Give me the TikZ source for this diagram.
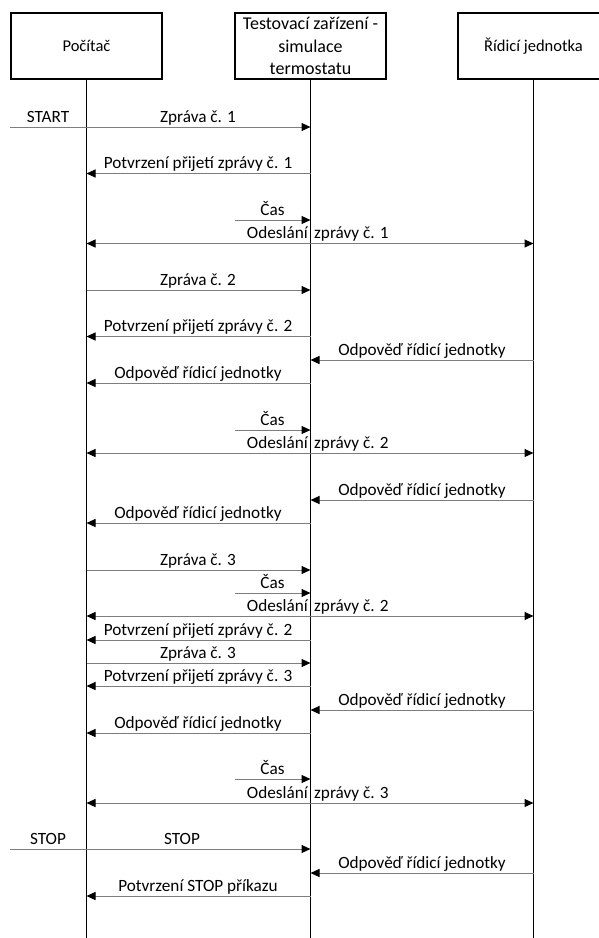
\documentclass[tikz,border=0pt]{standalone}
\usepackage{fontspec}
\setmainfont{Carlito}
\usetikzlibrary{arrows.meta}
\definecolor{msgray}{RGB}{125,125,125}

\tikzset{
  box/.style={draw, line width=1.6pt, minimum width=151pt, minimum height=66pt,
    inner sep=0pt, align=center, font=\fontsize{16.5}{22}\selectfont},
  life/.style={line width=1.6pt},
  msg/.style={draw=msgray, line width=1pt, -{Triangle[length=9pt,width=8pt,color=black]}},
  dmsg/.style={draw=msgray, line width=1pt,
    {Triangle[length=9pt,width=8pt,color=black]}-{Triangle[length=9pt,width=8pt,color=black]}},
  lbl/.style={font=\fontsize{17.2}{20}\selectfont, anchor=base, inner sep=0pt},
}

\begin{document}
\begin{tikzpicture}[x=1pt,y=-1pt]
  \useasboundingbox (0,0) rectangle (598,938);
  % participants
  \node[box] (pc) at (86.5,46) {Počítač};
  \node[box, font=\fontsize{18}{22.5}\selectfont] (tz) at (310.5,46) {Testovací zařízení -\\simulace\\termostatu};
  \node[box] (rj) at (533.5,46) {Řídicí jednotka};
  \draw[life] (pc.south) -- (pc.south |- 0,938);
  \draw[life] (tz.south) -- (tz.south |- 0,938);
  \draw[life] (rj.south) -- (rj.south |- 0,938);

  % start
  \coordinate (startin) at (10,127);
  \draw[msg] (startin) -- (tz.south |- startin);
  \node[lbl] (l0a) at (48,122) {START};
  \node[lbl] (l0b) at (198,122) {Zpráva č. 1};
  \draw[msg] (tz.south |- 0,173.5) -- (pc.south |- 0,173.5);
  \node[lbl] (l1) at (198,168.5) {Potvrzení přijetí zprávy č. 1};
  \coordinate (cas1) at (235,220);
  \draw[msg] (cas1) -- (tz.south |- cas1);
  \node[lbl] (l2) at (272.5,215) {Čas};
  \draw[dmsg] (pc.south |- 0,243.5) -- (rj.south |- 0,243.5);
  \node[lbl, anchor=base east] (l3a) at (308,238.5) {Odeslání};
  \node[lbl, anchor=base west] (l3b) at (314,238.5) {zprávy č. 1};

  % second message
  \draw[msg] (pc.south |- 0,290) -- (tz.south |- 0,290);
  \node[lbl] (l4) at (198,285) {Zpráva č. 2};
  \draw[msg] (tz.south |- 0,336.5) -- (pc.south |- 0,336.5);
  \node[lbl] (l5) at (198,331.5) {Potvrzení přijetí zprávy č. 2};
  \draw[msg] (rj.south |- 0,360) -- (tz.south |- 0,360);
  \node[lbl] (l6) at (422,355) {Odpověď řídicí jednotky};
  \draw[msg] (tz.south |- 0,383) -- (pc.south |- 0,383);
  \node[lbl] (l7) at (198,378) {Odpověď řídicí jednotky};
  \coordinate (cas2) at (235,430);
  \draw[msg] (cas2) -- (tz.south |- cas2);
  \node[lbl] (l8) at (272.5,425) {Čas};
  \draw[dmsg] (pc.south |- 0,453) -- (rj.south |- 0,453);
  \node[lbl, anchor=base east] (l9a) at (308,448) {Odeslání};
  \node[lbl, anchor=base west] (l9b) at (314,448) {zprávy č. 2};
  \draw[msg] (rj.south |- 0,500) -- (tz.south |- 0,500);
  \node[lbl] (l10) at (422,495) {Odpověď řídicí jednotky};
  \draw[msg] (tz.south |- 0,523) -- (pc.south |- 0,523);
  \node[lbl] (l11) at (198,518) {Odpověď řídicí jednotky};

  % third message
  \draw[msg] (pc.south |- 0,570) -- (tz.south |- 0,570);
  \node[lbl] (l12) at (198,565) {Zpráva č. 3};
  \coordinate (cas3) at (235,593);
  \draw[msg] (cas3) -- (tz.south |- cas3);
  \node[lbl] (l13) at (272.5,588) {Čas};
  \draw[dmsg] (pc.south |- 0,616) -- (rj.south |- 0,616);
  \node[lbl, anchor=base east] (l14a) at (308,611) {Odeslání};
  \node[lbl, anchor=base west] (l14b) at (314,611) {zprávy č. 2};
  \draw[msg] (tz.south |- 0,640) -- (pc.south |- 0,640);
  \node[lbl] (l15) at (198,635) {Potvrzení přijetí zprávy č. 2};
  \draw[msg] (pc.south |- 0,663) -- (tz.south |- 0,663);
  \node[lbl] (l16) at (198,658) {Zpráva č. 3};
  \draw[msg] (tz.south |- 0,686) -- (pc.south |- 0,686);
  \node[lbl] (l17) at (198,681) {Potvrzení přijetí zprávy č. 3};
  \draw[msg] (rj.south |- 0,710) -- (tz.south |- 0,710);
  \node[lbl] (l18) at (422,705) {Odpověď řídicí jednotky};
  \draw[msg] (tz.south |- 0,733) -- (pc.south |- 0,733);
  \node[lbl] (l19) at (198,728) {Odpověď řídicí jednotky};
  \coordinate (cas4) at (235,779);
  \draw[msg] (cas4) -- (tz.south |- cas4);
  \node[lbl] (l20) at (272.5,774) {Čas};
  \draw[dmsg] (pc.south |- 0,803) -- (rj.south |- 0,803);
  \node[lbl, anchor=base east] (l21a) at (308,798) {Odeslání};
  \node[lbl, anchor=base west] (l21b) at (314,798) {zprávy č. 3};

  % stop
  \coordinate (stopin) at (10,849);
  \draw[msg] (stopin) -- (tz.south |- stopin);
  \node[lbl] (l22a) at (48,844) {STOP};
  \node[lbl] (l22b) at (182,844) {STOP};
  \draw[msg] (rj.south |- 0,873) -- (tz.south |- 0,873);
  \node[lbl] (l23) at (422,868) {Odpověď řídicí jednotky};
  \draw[msg] (tz.south |- 0,896) -- (pc.south |- 0,896);
  \node[lbl] (l24) at (198,891) {Potvrzení STOP příkazu};
\end{tikzpicture}
\end{document}
